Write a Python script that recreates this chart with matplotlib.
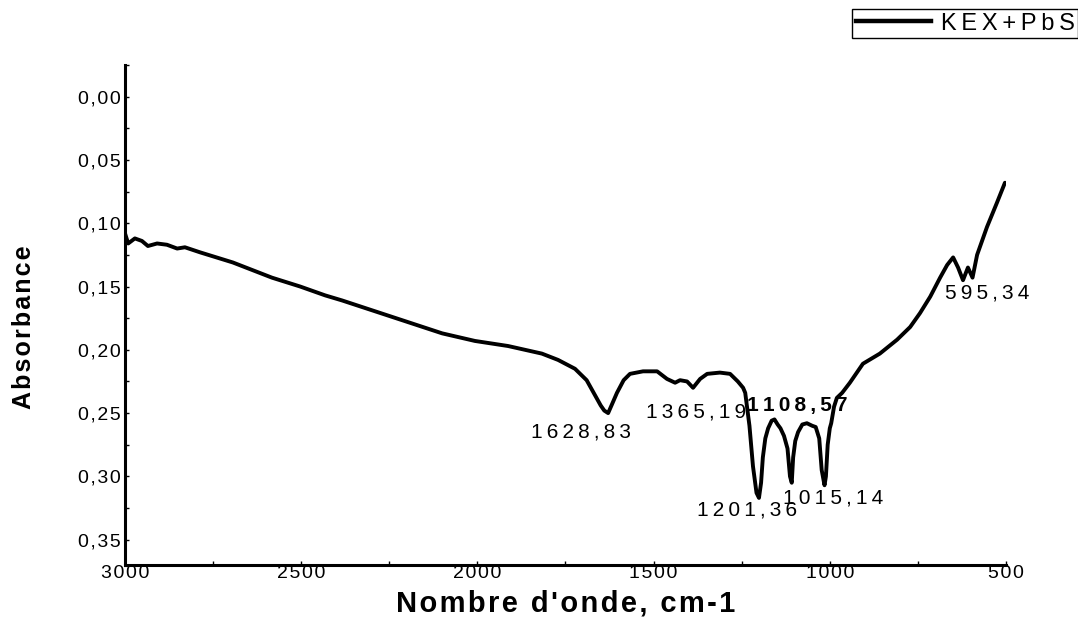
import matplotlib
matplotlib.use('Agg')
import matplotlib.pyplot as plt
from matplotlib.ticker import MultipleLocator
from matplotlib.lines import Line2D

# ---------------- data ----------------
wavenumber = [3000, 2991, 2972, 2952, 2935, 2909, 2881, 2852, 2830, 2787, 2694, 2583, 2503,
              2432, 2384, 2242, 2100, 2007, 1913, 1817, 1771, 1723, 1690, 1672, 1650, 1640,
              1629, 1618, 1604, 1585, 1567, 1530, 1490, 1462, 1439, 1425, 1405, 1388, 1368,
              1348, 1312, 1283, 1261, 1246, 1240, 1228, 1218, 1208, 1201, 1195, 1190, 1183,
              1175, 1165, 1157, 1148, 1140, 1130, 1120, 1113, 1108, 1104, 1098, 1090, 1078,
              1065, 1050, 1040, 1030, 1023, 1015, 1011, 1006, 1000, 996, 988, 980, 965, 943,
              906, 858, 809, 772, 744, 715, 687, 667, 650, 636, 622, 608, 595, 582, 554, 526, 503]
absorbance = [0.108, 0.116, 0.112, 0.114, 0.118, 0.116, 0.117, 0.120, 0.119, 0.123, 0.131, 0.143, 0.150,
              0.157, 0.161, 0.174, 0.187, 0.193, 0.197, 0.203, 0.208, 0.215, 0.224, 0.233, 0.244, 0.248,
              0.250, 0.243, 0.234, 0.224, 0.219, 0.217, 0.217, 0.223, 0.226, 0.224, 0.225, 0.230, 0.223,
              0.219, 0.218, 0.219, 0.225, 0.230, 0.234, 0.260, 0.292, 0.313, 0.317, 0.305, 0.285, 0.270,
              0.262, 0.256, 0.255, 0.259, 0.262, 0.268, 0.278, 0.300, 0.305, 0.285, 0.272, 0.265, 0.259,
              0.258, 0.260, 0.261, 0.270, 0.295, 0.307, 0.300, 0.275, 0.262, 0.258, 0.245, 0.238, 0.234, 0.226,
              0.211, 0.203, 0.192, 0.182, 0.171, 0.158, 0.143, 0.133, 0.127, 0.135, 0.145, 0.135, 0.143, 0.125,
              0.103, 0.084, 0.068]

peak_labels = ['1628,83', '1365,19', '1108,57', '1201,36', '1015,14', '595,34']
peak_label_x = [1706, 1380, 1093, 1235, 991, 554]
peak_label_y = [0.265, 0.249, 0.2443, 0.3265, 0.317, 0.155]
peak_label_bold = [False, False, True, False, False, False]

x_ticks = [3000, 2500, 2000, 1500, 1000, 500]
x_ticklabels = ['3000', '2500', '2000', '1500', '1000', '500']
y_ticks = [0.00, 0.05, 0.10, 0.15, 0.20, 0.25, 0.30, 0.35]
y_ticklabels = ['0,00', '0,05', '0,10', '0,15', '0,20', '0,25', '0,30', '0,35']

series_name = 'KEX+PbS'
x_title = "Nombre d'onde, cm-1"
y_title = 'Absorbance'

HAIR = '\u200a'
THIN = '\u2009'


def spaced(s, sp):
    return sp.join(s)


plt.rcParams['font.family'] = ['Liberation Sans', 'DejaVu Sans']

W, H = 1078, 622
fig = plt.figure(figsize=(W / 100, H / 100), dpi=100)
ax = fig.add_axes([125 / W, 1 - 565 / H, (1006 - 125) / W, (565 - 65) / H])

ax.plot(wavenumber, absorbance, color='black', lw=2.8,
        solid_joinstyle='round', solid_capstyle='round')

ax.set_xlim(3000, 500)
ax.set_ylim(0.37, -0.025)

ax.set_xticks(x_ticks, [spaced(t, HAIR) for t in x_ticklabels])
ax.set_yticks(y_ticks, [spaced(t, HAIR) for t in y_ticklabels])
ax.xaxis.set_minor_locator(MultipleLocator(250))
ax.yaxis.set_minor_locator(MultipleLocator(0.025))

for s in ['top', 'right']:
    ax.spines[s].set_visible(False)
for s in ['left', 'bottom']:
    ax.spines[s].set_linewidth(2.2)

ax.tick_params(which='both', direction='in', width=1, color='black')
ax.tick_params(which='major', length=3)
ax.tick_params(which='minor', length=3)
ax.tick_params(axis='y', which='both', pad=3, labelsize=14)
ax.tick_params(axis='x', which='both', pad=0, labelsize=14)

for lab, x, y, b in zip(peak_labels, peak_label_x, peak_label_y, peak_label_bold):
    ax.text(x, y, spaced(lab, THIN), ha='center', va='center', fontsize=15,
            fontweight='bold' if b else 'normal', color='black')

ax.set_xlabel(spaced(x_title, HAIR), fontsize=21, fontweight='bold')
ax.xaxis.label.set_verticalalignment('center')
ax.xaxis.set_label_coords(0.5, (565 - 603) / 500)

ax.set_ylabel(spaced(y_title, HAIR), fontsize=18, fontweight='bold')
ax.yaxis.label.set_verticalalignment('center')
ax.yaxis.set_label_coords((24 - 125) / 881, (565 - 327) / 500)

handle = Line2D([], [], color='black', lw=3.2)
leg = fig.legend([handle], [spaced(series_name, THIN)], loc='upper right',
                 bbox_to_anchor=(1.0, 1 - 9 / H), bbox_transform=fig.transFigure,
                 frameon=True, fancybox=False, edgecolor='black', framealpha=1,
                 borderpad=0.15, handlelength=3.2, handletextpad=0.4, borderaxespad=0,
                 fontsize=17)
leg.get_frame().set_linewidth(1.0)

fig.savefig('out.png', dpi=100)
